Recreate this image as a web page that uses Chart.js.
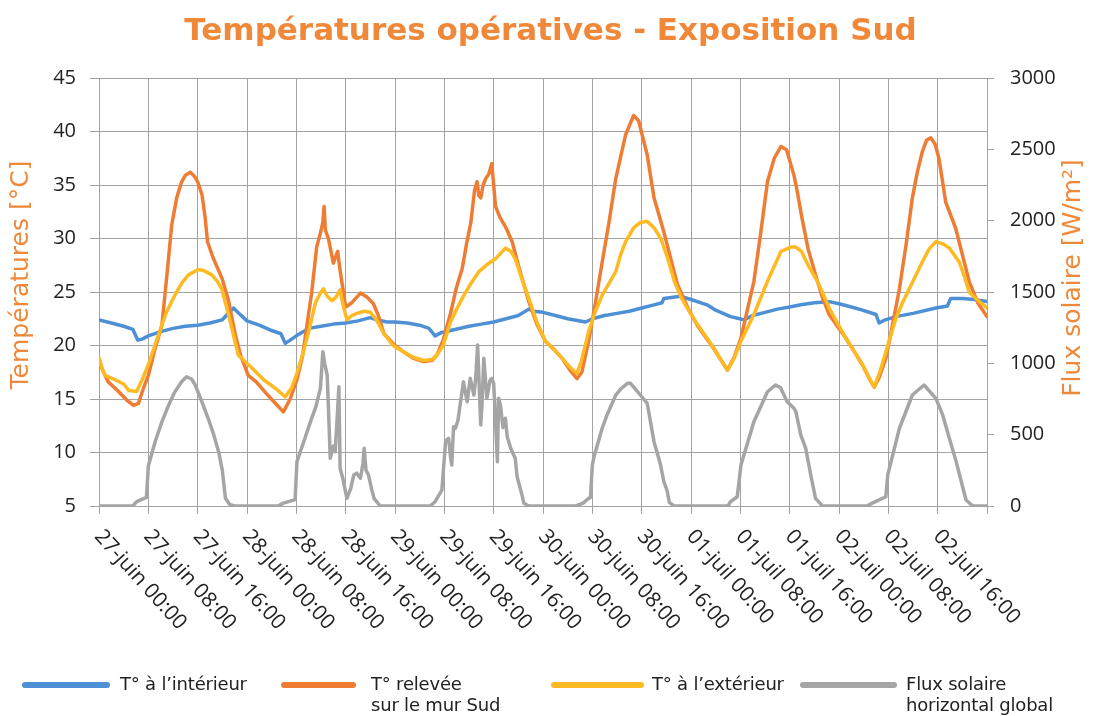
<!DOCTYPE html>
<html lang="fr">
<head>
<meta charset="UTF-8">
<title>Températures opératives - Exposition Sud</title>
<script src="https://cdn.jsdelivr.net/npm/chart.js"></script>
<style>
    body { margin: 0; background: #fff; font-family: 'Open Sans', sans-serif; }
    #wrap { position: relative; width: 1101px; height: 716px; }
    .leg-line { position: absolute; height: 6px; border-radius: 3px; }
    .leg-text { position: absolute; font-family: 'DejaVu Sans', sans-serif; font-size: 18px; line-height: 21px; color: #222; letter-spacing: -0.2px; }
</style>
</head>
<body>
<div id="wrap">
    <canvas id="chart" width="1101" height="716"></canvas>

    <!-- legend -->
    <div class="leg-line" style="left:22px;top:682px;width:88px;background:#4E90D6"></div>
    <div class="leg-text" style="left:120px;top:673px">T° à l’intérieur</div>
    <div class="leg-line" style="left:281px;top:682px;width:75px;background:#EE7D33"></div>
    <div class="leg-text" style="left:371px;top:673px">T° relevée<br>sur le mur Sud</div>
    <div class="leg-line" style="left:551px;top:682px;width:93px;background:#FDBA22"></div>
    <div class="leg-text" style="left:652px;top:673px">T° à l’extérieur</div>
    <div class="leg-line" style="left:800px;top:682px;width:97px;background:#A5A5A5"></div>
    <div class="leg-text" style="left:906px;top:673px">Flux solaire<br>horizontal global</div>
</div>

<script>
    // x axis = hours since 27-juin 00:00
    const xLabels = ['27-juin 00:00', '27-juin 08:00', '27-juin 16:00', '28-juin 00:00', '28-juin 08:00', '28-juin 16:00',
        '29-juin 00:00', '29-juin 08:00', '29-juin 16:00', '30-juin 00:00', '30-juin 08:00', '30-juin 16:00',
        '01-juil 00:00', '01-juil 08:00', '01-juil 16:00', '02-juil 00:00', '02-juil 08:00', '02-juil 16:00'];

    // T° à l'intérieur
    const intHours = [0, 2, 4, 5.5, 6.3, 7, 8, 10, 12, 14, 16, 18, 20, 21.8, 22.5, 24, 26, 28, 29.5, 30.2, 31, 32, 34, 36, 38, 40, 42, 44, 45, 46.7,
        48, 50, 52, 53.5, 54.5, 55.5, 57, 60, 62, 64, 66, 68, 69.7, 70.5, 72, 74, 76, 78.9, 80, 82, 84, 86, 88, 90, 91.3, 91.6, 94.3, 96, 98.6,
        100, 102.4, 104.6, 106, 108, 110, 112, 113.8, 116, 118.4, 120, 122, 123.8, 126, 126.5, 127.5, 129.2, 132, 135.7, 137.6, 138.1, 140, 142, 144];
    const intTemp = [22.4, 22.1, 21.8, 21.5, 20.5, 20.6, 20.9, 21.3, 21.6, 21.8, 21.9, 22.1, 22.4, 23.5, 23.1, 22.3, 21.9, 21.4, 21.1, 20.2, 20.5, 20.9, 21.6, 21.8, 22.0, 22.1, 22.3, 22.6, 22.4, 22.2,
        22.2, 22.1, 21.9, 21.6, 20.9, 21.2, 21.4, 21.8, 22.0, 22.2, 22.5, 22.8, 23.4, 23.2, 23.1, 22.8, 22.5, 22.2, 22.5, 22.8, 23.0, 23.2, 23.5, 23.8, 24.0, 24.4, 24.6, 24.3, 23.8,
        23.3, 22.7, 22.4, 22.8, 23.1, 23.4, 23.6, 23.8, 24.0, 24.1, 23.9, 23.6, 23.3, 22.9, 22.1, 22.4, 22.7, 23.0, 23.5, 23.7, 24.4, 24.4, 24.3, 24.1];

    const murHours = [0, 0.5, 1.5, 3, 4.5, 5.6, 6.4, 7.2, 8, 9, 10.2, 11, 11.8, 12.6, 13.4, 14, 14.8, 15.5, 16, 16.7, 17.2, 17.6, 18.5, 20, 21, 22.1, 23, 24.2, 25.5, 27, 28.6,
        29.9, 31, 32.1, 33, 33.7, 34.5, 35.3, 35.9, 36.3, 36.5, 36.7, 37.2, 38, 38.7, 39.1, 40, 41, 42.4, 43.5, 44.5, 45.3, 46.2, 48, 49.4, 51, 52.6, 54, 54.8, 55.8,
        57, 58, 58.9, 59.6, 60.3, 60.9, 61.3, 61.6, 61.9, 62.3, 62.7, 63.2, 63.7, 64, 64.3, 65, 66, 67, 68, 69.7, 71, 72.4, 74, 75.1, 76.5, 77.5, 78.3, 79.4, 80.5, 81.6, 82.7, 83.8,
        85.4, 86.7, 87.5, 88.9, 90, 91.6, 93.8, 95.5, 97, 99.7, 101.9, 103, 104.1, 106.2, 107.3, 108.4, 109.5, 110.6, 111.5, 112.7, 113.2, 114, 115, 116.2, 117.3, 118.4,
        120, 121.1, 122.5, 123.8, 125, 125.7, 126.5, 127.6, 128.7, 129.8, 130.9, 131.9, 132.7, 133.5, 134.2, 134.9, 135.6, 136.2, 136.8, 137.3, 138.9, 140, 141.1, 142.5, 144];
    const murTemp = [18.8, 17.8, 16.6, 15.8, 14.9, 14.4, 14.6, 16.0, 17.2, 19.5, 21.9, 26.5, 31.3, 33.8, 35.3, 35.9, 36.2, 35.8, 35.3, 34.1, 32.0, 29.7, 28.2, 26.2, 24.2, 21.0, 19.0, 17.2, 16.6, 15.6, 14.6,
        13.8, 15.0, 16.8, 19.0, 21.8, 25.0, 29.2, 30.5, 31.5, 33.0, 30.8, 30.0, 27.7, 28.8, 27.0, 23.6, 24.0, 24.9, 24.5, 23.9, 22.8, 21.1, 20.0, 19.4, 18.8, 18.5, 18.6, 19.1, 20.5,
        23.0, 25.5, 27.2, 29.5, 31.5, 34.5, 35.3, 34.0, 33.8, 35.0, 35.6, 36.0, 37.0, 35.0, 33.0, 32.0, 31.0, 29.7, 27.5, 24.1, 22.0, 20.4, 19.5, 18.8, 17.6, 16.9, 17.5, 20.4, 24.0, 27.8, 31.5, 35.6,
        39.7, 41.5, 41.0, 37.8, 33.8, 30.6, 25.7, 23.5, 21.9, 19.7, 17.7, 18.9, 20.7, 26.0, 30.5, 35.3, 37.5, 38.6, 38.3, 35.9, 34.5, 31.9, 29.0, 26.6, 24.5, 22.9,
        21.6, 20.7, 19.4, 18.2, 16.8, 16.1, 17.0, 18.8, 22.0, 25.3, 29.5, 33.8, 36.2, 38.1, 39.2, 39.4, 38.8, 37.5, 35.3, 33.4, 31.0, 28.5, 26.0, 24.0, 22.7];

    // T° à l'extérieur
    const extHours = [0, 0.5, 1, 2.6, 4, 4.8, 6.1, 7, 8, 10.2, 11, 12.3, 13.5, 14.5, 16.1, 17, 18.3, 19.2, 19.9, 21, 22, 22.6, 23.5, 24.8, 26.7, 28.6,
        30.2, 31.2, 32.1, 33.2, 34.3, 35.1, 35.9, 36.4, 37, 37.8, 38.4, 39.1, 39.5, 40.2, 41, 41.8, 43, 44, 45, 46.2, 47.7, 49.4, 51, 52.6, 54, 54.8, 55.8,
        57, 58, 58.9, 60.3, 61.6, 63, 64.3, 65.9, 66.8, 67.5, 68.6, 69.7, 71, 72.4, 74, 75.1, 76.5, 77.5, 78.2, 79.4, 80.5, 81.6, 83.8,
        84.6, 85.4, 86.7, 87.8, 88.9, 90, 91.1, 92.2, 93.3, 94.4, 95.4, 97, 98.6, 100.3, 101.9, 103, 104.1, 106.2, 108.4, 110.6, 112.2,
        113, 113.9, 115, 116.2, 117.3, 118.4, 121.1, 123.8, 125.7, 126.6, 127.6, 129.2, 130.3, 131.4, 133.5, 134.6, 135.7, 136.8, 137.9, 139.5, 140.3, 141.1, 142.2, 143, 144];
    const extTemp = [18.8, 17.8, 17.2, 16.8, 16.4, 15.8, 15.7, 16.8, 18.2, 21.9, 23.2, 24.7, 25.9, 26.6, 27.1, 27.0, 26.6, 26.0, 25.3, 22.9, 20.5, 19.1, 18.6, 17.9, 16.8, 16.0,
        15.2, 16.0, 17.4, 19.5, 22.0, 24.0, 24.9, 25.3, 24.6, 24.2, 24.5, 25.2, 24.0, 22.4, 22.8, 23.0, 23.2, 23.1, 22.4, 21.1, 20.0, 19.4, 18.9, 18.6, 18.7, 19.1, 20.0,
        22.2, 23.4, 24.4, 25.8, 26.9, 27.6, 28.1, 29.1, 28.8, 28.1, 26.2, 24.4, 22.2, 20.4, 19.5, 18.8, 17.9, 17.4, 18.5, 21.3, 23.2, 24.7, 26.9,
        28.5, 29.7, 31.0, 31.5, 31.6, 31.0, 30.0, 28.2, 26.0, 24.5, 23.5, 22.0, 20.7, 19.2, 17.7, 18.8, 20.4, 22.9, 26.0, 28.8, 29.2,
        29.2, 28.8, 27.5, 26.3, 25.0, 23.5, 20.7, 18.2, 16.1, 17.5, 19.4, 22.5, 24.0, 25.3, 27.8, 29.0, 29.7, 29.5, 29.1, 27.8, 26.5, 25.0, 24.4, 24.0, 23.5];

    // Flux solaire horizontal global (W/m²)
    const fluxHours = [0, 5.5, 6.1, 7.7, 8, 9.1, 10.2, 11.3, 12.3, 13.4, 14.2, 15, 15.6, 16.6, 17.7, 18.6, 19.4, 20, 20.5, 21.2, 22.1,
        29, 29.9, 31.8, 32.1, 33.2, 34.3, 35.2, 35.9, 36.1, 36.3, 36.6, 37, 37.2, 37.5, 38, 38.3, 38.6, 38.9, 39.1, 39.5, 40.2, 40.8, 41.3, 41.8, 42.4, 42.8, 43, 43.3, 43.7, 44.2, 44.6, 45.6,
        53.7, 54.5, 55.6, 56.2, 56.4, 56.7, 57, 57.2, 57.5, 57.8, 58.2, 58.6, 59.1, 59.7, 60.2, 60.8, 61.1, 61.4, 61.9, 62.1, 62.4, 62.9, 63.4, 63.7, 64, 64.3, 64.6, 64.8, 65.1, 65.5, 65.9, 66.2, 66.8, 67.5, 67.8, 68.6, 68.9, 69.7,
        77.3, 78.5, 79.4, 79.7, 80, 80.3, 81.6, 82.4, 83.8, 84.6, 85.7, 86.2, 87.8, 88.9, 90, 91, 91.6, 92.1, 92.5, 93.3,
        102, 102.4, 103.5, 104.1, 106.2, 108.4, 109.7, 110.5, 111.6, 112.7, 113, 113.8, 114.6, 115.5, 116.2, 117.3,
        124.5, 125.4, 127.6, 127.9, 129.8, 131.9, 133.8, 135.7, 136.8, 137.9, 139, 140.6, 141.7, 144];
    const fluxVal = [0, 0, 30, 60, 280, 450, 590, 708, 800, 871, 906, 890, 848, 740, 615, 500, 381, 250, 54, 10, 0,
        0, 20, 45, 311, 450, 591, 700, 825, 950, 1082, 1000, 918, 700, 334, 420, 381, 600, 836, 264, 200, 54, 120, 217, 230, 194, 300, 404, 250, 217, 120, 54, 0,
        0, 30, 112, 451, 463, 474, 346, 287, 556, 545, 600, 720, 871, 731, 895, 778, 900, 1129, 568, 706, 1035, 755, 880, 895, 860, 600, 311, 755, 706, 550, 615, 486, 400, 334, 206, 77, 19, 0,
        0, 20, 54, 60, 287, 350, 545, 640, 778, 820, 860, 860, 778, 720, 451, 300, 170, 112, 24, 0,
        0, 30, 65, 287, 591, 801, 848, 830, 731, 685, 661, 498, 404, 200, 54, 0,
        0, 20, 65, 217, 545, 778, 848, 755, 640, 474, 311, 42, 0, 0];

    const pts = (xs, ys) => xs.map((x, i) => ({ x: x, y: ys[i] }));

    const ORANGE = '#F0883A';
    const GRID = '#a3a3a3';

    // rotated x labels + axis titles drawn on the canvas
    const extraText = {
        id: 'extraText',
        afterDraw(chart) {
            const ctx = chart.ctx;
            const xs = chart.scales.x;
            const area = chart.chartArea;
            ctx.save();
            ctx.fillStyle = '#222';
            ctx.font = '21px "Open Sans", sans-serif';
            ctx.textAlign = 'left';
            ctx.textBaseline = 'top';
            xLabels.forEach((lab, i) => {
                const px = xs.getPixelForValue(i * 8);
                ctx.save();
                ctx.translate(px + 7, area.bottom + 20);
                ctx.rotate(48 * Math.PI / 180);
                ctx.fillText(lab, 0, 0);
                ctx.restore();
            });

            ctx.fillStyle = ORANGE;
            ctx.font = '25px "DejaVu Sans", sans-serif';
            ctx.textAlign = 'center';
            ctx.textBaseline = 'middle';
            ctx.save();
            ctx.translate(21, 275);
            ctx.rotate(-Math.PI / 2);
            ctx.fillText('Températures [°C]', 0, 0);
            ctx.restore();
            ctx.save();
            ctx.translate(1073, 278);
            ctx.rotate(-Math.PI / 2);
            ctx.fillText('Flux solaire [W/m²]', 0, 0);
            ctx.restore();
            ctx.restore();
        }
    };

    new Chart(document.getElementById('chart'), {
        type: 'line',
        data: {
            datasets: [
                { label: 'T° à l’intérieur', data: pts(intHours, intTemp), borderColor: '#4E90D6', yAxisID: 'y', order: 4 },
                { label: 'T° relevée sur le mur Sud', data: pts(murHours, murTemp), borderColor: '#EE7D33', yAxisID: 'y', order: 3 },
                { label: 'T° à l’extérieur', data: pts(extHours, extTemp), borderColor: '#FDBA22', yAxisID: 'y', order: 2 },
                { label: 'Flux solaire horizontal global', data: pts(fluxHours, fluxVal), borderColor: '#A5A5A5', yAxisID: 'y2', order: 1 }
            ]
        },
        options: {
            responsive: false,
            animation: false,
            layout: { padding: 0 },
            elements: {
                line: { borderWidth: 3.5, tension: 0, borderCapStyle: 'round', borderJoinStyle: 'round' },
                point: { radius: 0 }
            },
            plugins: {
                legend: { display: false },
                tooltip: { enabled: false },
                title: {
                    display: true,
                    text: 'Températures opératives - Exposition Sud',
                    color: ORANGE,
                    font: { family: 'DejaVu Sans', size: 31, weight: 'bold', lineHeight: 1.2 },
                    padding: { top: 13, bottom: 27.8 }
                }
            },
            scales: {
                x: {
                    type: 'linear',
                    min: 0,
                    max: 144,
                    afterFit: s => { s.height = 210; },
                    ticks: { stepSize: 8, display: false },
                    grid: { color: GRID, lineWidth: 1, tickLength: 8 },
                    border: { display: false }
                },
                y: {
                    position: 'left',
                    min: 5,
                    max: 45,
                    afterFit: s => { s.width = 99; },
                    ticks: { stepSize: 5, color: '#222', padding: 14, font: { family: 'Open Sans', size: 20 } },
                    grid: { color: GRID, lineWidth: 1, tickLength: 9 },
                    border: { display: false }
                },
                y2: {
                    position: 'right',
                    min: 0,
                    max: 3000,
                    afterFit: s => { s.width = 114; },
                    ticks: { stepSize: 500, color: '#222', padding: 16, font: { family: 'Open Sans', size: 20 }, callback: v => String(v) },
                    grid: { drawOnChartArea: false, color: GRID, tickLength: 7 },
                    border: { display: false }
                }
            }
        },
        plugins: [extraText]
    });
</script>
</body>
</html>
